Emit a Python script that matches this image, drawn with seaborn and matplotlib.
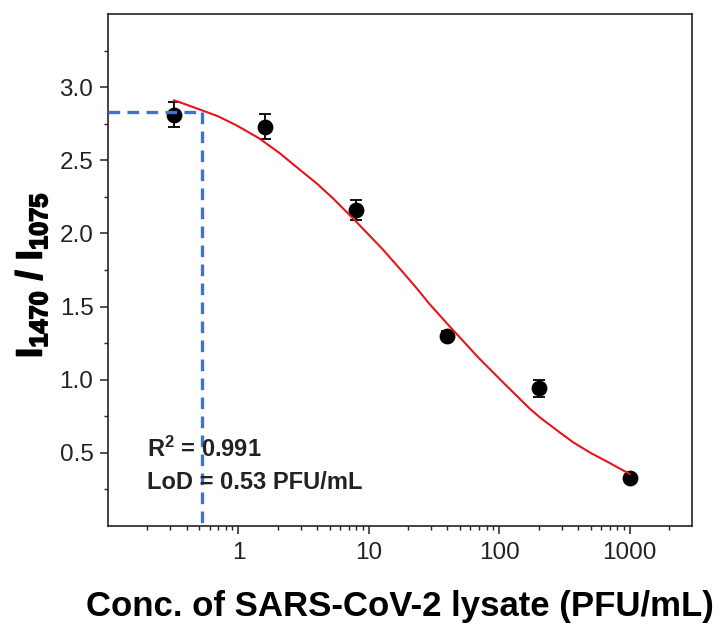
import numpy as np
import matplotlib
matplotlib.use("Agg")
import matplotlib.pyplot as plt
import matplotlib.patheffects as pe
from matplotlib.ticker import FixedLocator, FuncFormatter
import seaborn as sns

# measured points (five-fold dilution series)
conc = [0.32, 1.6, 8, 40, 200, 1000]
ratio = [2.81, 2.73, 2.16, 1.30, 0.94, 0.33]
ratio_err = [0.085, 0.085, 0.068, 0.03, 0.06, 0.02]

# fitted curve
fit_conc = [0.32, 0.4, 0.53, 0.7, 0.96, 1.44, 2.06, 3.1, 4, 5.3, 7.8, 12.8, 18,
            23, 29, 42, 71, 110, 172, 206, 290, 371, 500, 670, 1000]
fit_ratio = [2.91, 2.88, 2.84, 2.80, 2.74, 2.65, 2.55, 2.42, 2.34, 2.24, 2.09,
             1.89, 1.74, 1.63, 1.52, 1.36, 1.14, 0.97, 0.80, 0.74, 0.64, 0.57,
             0.50, 0.44, 0.355]

# limit of detection guide
lod_conc = 0.53
lod_ratio = 2.83

r2_text = "R$^{\\mathbf{2}}$ = 0.991"
lod_text = "LoD = 0.53 PFU/mL"

sns.set_theme(style="ticks")
plt.rcParams["font.family"] = ["Liberation Sans", "DejaVu Sans"]
plt.rcParams["mathtext.fontset"] = "custom"
plt.rcParams["mathtext.rm"] = "Liberation Sans"
plt.rcParams["mathtext.it"] = "Liberation Sans"
plt.rcParams["mathtext.bf"] = "Liberation Sans:bold"

fig = plt.figure(figsize=(7.21, 6.24), dpi=100)
ax = fig.add_axes([0.1498, 0.1571, 0.8100, 0.8205])

sns.lineplot(x=fit_conc, y=fit_ratio, ax=ax, color="#e8141c", linewidth=1.5,
             sort=False, zorder=4)

ax.errorbar(conc, ratio, yerr=ratio_err, fmt="none", ecolor="black",
            elinewidth=1.3, capsize=4, capthick=1.3, zorder=2)
sns.scatterplot(x=conc, y=ratio, ax=ax, color="black", s=130,
                edgecolor="black", linewidth=0, zorder=2)

# dashed LoD guide lines
ax.plot([0.1, lod_conc], [lod_ratio, lod_ratio], color="#4472c4",
        linewidth=2.4, dashes=(3.5, 2.2), zorder=3)
ax.plot([lod_conc, lod_conc], [lod_ratio, 0], color="#4472c4",
        linewidth=2.4, dashes=(3.5, 2.2), zorder=3)

ax.set_xscale("log")
ax.set_xlim(0.1, 3000)
ax.set_ylim(0, 3.5)

ax.xaxis.set_major_locator(FixedLocator([1, 10, 100, 1000]))
minor_x = [m * d for d in [0.1, 1, 10, 100, 1000] for m in range(2, 10)]
ax.xaxis.set_minor_locator(FixedLocator([v for v in minor_x if v < 3000]))
ax.xaxis.set_major_formatter(FuncFormatter(lambda v, p: f"{v:g}"))
ax.xaxis.set_minor_formatter(FuncFormatter(lambda v, p: ""))

ax.yaxis.set_major_locator(FixedLocator([0.5, 1.0, 1.5, 2.0, 2.5, 3.0]))
ax.yaxis.set_minor_locator(FixedLocator([0.25, 0.75, 1.25, 1.75, 2.25, 2.75, 3.25]))
ax.yaxis.set_major_formatter(FuncFormatter(lambda v, p: f"{v:.1f}"))

ax.tick_params(axis="both", which="major", direction="out", length=5.5,
               width=1.1, labelsize=17.5, color="#222222", labelcolor="#222222")
ax.tick_params(axis="x", which="major", pad=6)
ax.tick_params(axis="y", which="major", pad=5)
ax.tick_params(axis="both", which="minor", direction="out", length=3,
               width=1.0, color="#222222")

for side in ["left", "right", "top", "bottom"]:
    ax.spines[side].set_visible(True)
    ax.spines[side].set_linewidth(1.2)
    ax.spines[side].set_color("#222222")

ax.text(0.2, 0.475, r2_text, fontsize=17, fontweight="bold", color="#222222",
        va="baseline", ha="left")
ax.text(0.2, 0.253, lod_text, fontsize=17, fontweight="bold", color="#222222",
        va="baseline", ha="left")

ax.set_xlabel("Conc. of SARS-CoV-2 lysate (PFU/mL)", fontsize=25,
              fontweight="bold", color="black")
ax.xaxis.set_label_coords(0.5, -0.125)
ax.set_ylabel(r"$\mathbf{I_{1470}\ /\ I_{1075}}$", fontsize=26, color="black",
              path_effects=[pe.withStroke(linewidth=1.2, foreground="black")])
ax.yaxis.set_label_coords(-0.1, 0.49)

fig.savefig("out.png", dpi=100)
plt.close(fig)
